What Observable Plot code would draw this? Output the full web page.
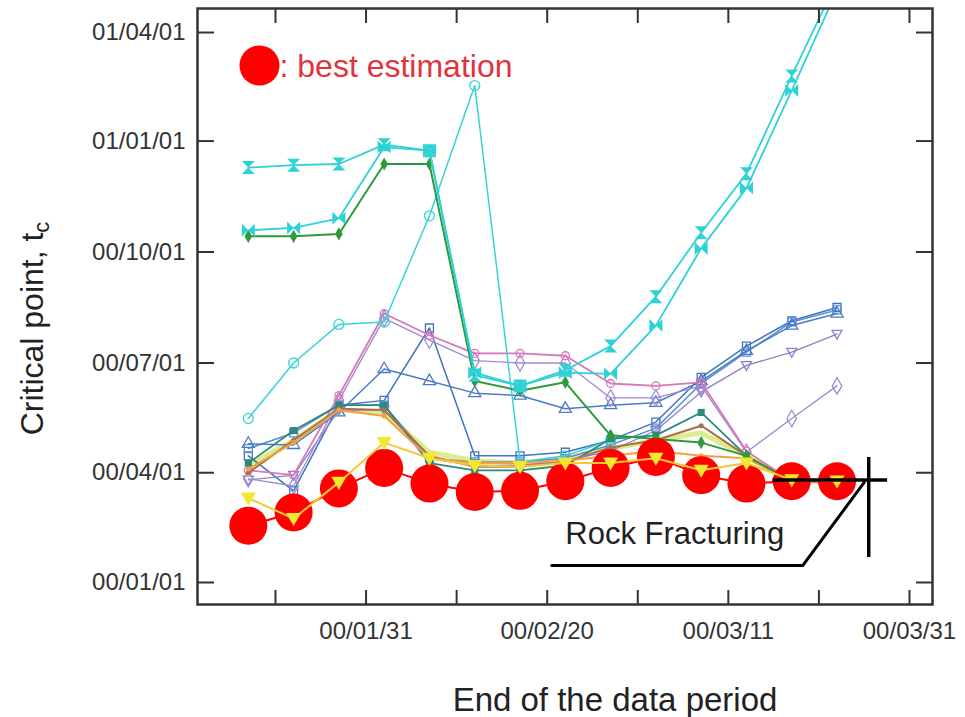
<!DOCTYPE html>
<html><head><meta charset="utf-8">
<script src="https://cdn.jsdelivr.net/npm/d3@7"></script>
<script src="https://cdn.jsdelivr.net/npm/@observablehq/plot@0.6"></script>
<style>
html,body{margin:0;padding:0;background:#fff;}
#chart svg{font-family:"Liberation Sans",Arial,Helvetica,sans-serif;}
</style></head><body><div id="chart"></div>
<script>
// End of the data period (x)
const endDates = ["2000-01-18","2000-01-23","2000-01-28","2000-02-02","2000-02-07","2000-02-12","2000-02-17",
  "2000-02-22","2000-02-27","2000-03-03","2000-03-08","2000-03-13","2000-03-18","2000-03-23"];

// Critical point t_c, expressed as days after 2000-01-01
const bestEstimation = [47, 58, 78, 95, 82, 75, 76, 84, 95, 104, 89, 82, 84, 84];
const cyanHourglass  = [344, 346, 347, 363, 358, 172, 163, 176, 196, 237, 290, 339, 420, 499];
const cyanBowtie     = [292, 294, 302, 361, 358, 174, 163, 174, 173, 213, 277, 327, 408, 491];
const greenDiamond   = [287, 287, 289, 347, 347, 167, 159, 166, 122, 119, 116, 105, 84, null];
const cyanCircle     = [136, 182, 214, 216, 304, 412, 100, 105, 118, null, null, null, null, null];
const pinkCircle     = [93, 89, 155, 223, 205, 190, 190, 188, 165, 163, 166, 109, 84, 84];
const purpleDiamond  = [86, 80, 151, 219, 201, 184, 182, 182, 153, 153, 163, 108, 136, 163];
const blueTriangle   = [115, 114, 141, 177, 167, 157, 155, 144, 147, 149, 167, 192, 213, 223];
const blueSquareA    = [105, 76, 147, 151, 211, 105, 105, 108, 118, 133, 170, 196, 217, 228];
const blueSquareB    = [111, 124, 147, 147, 103, 100, 100, 103, 114, 128, 165, 191, 216, 226];
const violetTriangle = [85, 89, 143, 143, 103, 97, 97, 101, 109, 126, 158, 180, 191, 206];
const tealSquare     = [99, 126, 147, 147, 99, 93, 93, 97, 119, 122, 141, 105, 84, 84];
const orangeLine     = [94, 116, 143, 138, 103, 99, 99, 101, 105, 109, 105, 103, 84, 84];
const brownLine      = [91, 118, 144, 143, 105, 96, 96, 100, 112, 118, 130, 105, 84, 84];
const limeLine       = [97, 118, 143, 141, 108, 101, 99, 103, 111, 118, 124, 105, 84, 84];
const yellowTriangle = [70, 53, 83, 116, 103, 97, 96, 99, 99, 103, 93, 99, 85, 84];

// axis ticks
const xTickDates  = ["2000-01-21","2000-01-31","2000-02-10","2000-02-20","2000-03-01","2000-03-11","2000-03-21","2000-03-31"];
const xLabelDates = ["2000-01-31","2000-02-20","2000-03-11","2000-03-31"];
const yTickDates  = ["2000-01-01","2000-04-01","2000-07-01","2000-10-01","2001-01-01","2001-04-01"];

// rock fracturing annotation (dates)
const fractureTime = "2000-03-26T12:00Z";
const fractureTc = 85;
const crossX = ["2000-03-15T22:00Z", "2000-03-28T14:00Z"];
const crossTc = [103.6, 20.7];
const leaderX = ["2000-03-26T00:00Z", "2000-03-19T05:00Z", "2000-02-20T12:00Z"];
const leaderTc = [83, 14, 14];
const labelX = "2000-03-05T02:00Z";
const labelTc = 40;

const origin = Date.UTC(2000, 0, 1);
const toDate = d => new Date(origin + d * 864e5);
const fmt = d3.utcFormat("%y/%m/%d");

const hourglass = {draw(c, s){const r=Math.sqrt(s/Math.PI); c.moveTo(-r,-r); c.lineTo(r,-r); c.lineTo(-r,r); c.lineTo(r,r); c.closePath();}};
const bowtie = {draw(c, s){const r=Math.sqrt(s/Math.PI); c.moveTo(-r,-r); c.lineTo(-r,r); c.lineTo(r,-r); c.lineTo(r,r); c.closePath();}};
const triDown = {draw(c, s){const r=Math.sqrt(s/Math.PI); c.moveTo(-r,-0.75*r); c.lineTo(r,-0.75*r); c.lineTo(0,r); c.closePath();}};

const seriesData = {limeLine, blueSquareA, blueSquareB, blueTriangle, violetTriangle, purpleDiamond, pinkCircle,
  cyanCircle, tealSquare, brownLine, orangeLine, greenDiamond, cyanBowtie, cyanHourglass, bestEstimation, yellowTriangle};

const styles = {
  limeLine:      {stroke:"#dcee8c", width:5, symbol:null},
  blueSquareA:   {stroke:"#3f74c0", width:1.5, symbol:"square", fill:"none", r:4.5},
  blueSquareB:   {stroke:"#5b8fd8", width:1.5, symbol:"square", fill:"none", r:4.5},
  blueTriangle:  {stroke:"#4a7cc4", width:1.5, symbol:"triangle", fill:"none", r:4.5},
  violetTriangle:{stroke:"#8a80cc", width:1.3, symbol:triDown, fill:"none", r:5},
  purpleDiamond: {stroke:"#a08ad0", width:1.3, symbol:"diamond", fill:"none", r:5},
  pinkCircle:    {stroke:"#d878b8", width:1.8, symbol:"circle", fill:"none", r:4},
  cyanCircle:    {stroke:"#3ad4d8", width:1.5, symbol:"circle", fill:"none", r:5},
  tealSquare:    {stroke:"#2c8a7c", width:1.8, symbol:"square", fill:"#2c8a7c", r:4},
  brownLine:     {stroke:"#a87250", width:2, symbol:"circle", fill:"#a87250", r:2.5},
  orangeLine:    {stroke:"#f2a040", width:2, symbol:"circle", fill:"#f2a040", r:2.5},
  greenDiamond:  {stroke:"#2f9a3c", width:2, symbol:"diamond", fill:"#2f9a3c", r:4},
  cyanBowtie:    {stroke:"#2cd2d6", width:1.8, symbol:bowtie, fill:"#2cd2d6", r:6.5},
  cyanHourglass: {stroke:"#2cd2d6", width:1.8, symbol:hourglass, fill:"#2cd2d6", r:6.5},
  bestEstimation:{stroke:"#ff0000", width:2, symbol:"circle", fill:"#ff0000", r:19},
  yellowTriangle:{stroke:"#f6c830", width:2, symbol:triDown, fill:"#f2e830", r:7.5}
};

function rowsOf(name) {
  return seriesData[name].map((v, i) => v == null ? null : {series: name, end: new Date(endDates[i]), tc: toDate(v)}).filter(Boolean);
}

const W = 965, H = 717, mL = 197, mR = 33, mT = 8, mB = 113;
const innerW = W - mL - mR, innerH = H - mT - mB;

const marks = [];
for (const name of Object.keys(seriesData)) {
  const st = styles[name], rows = rowsOf(name);
  marks.push(Plot.line(rows, {x: "end", y: "tc", stroke: st.stroke, strokeWidth: st.width, clip: true}));
  if (st.symbol) marks.push(Plot.dot(rows, {x: "end", y: "tc", symbol: st.symbol, r: st.r, stroke: st.fill === "none" ? st.stroke : "none",
    fill: st.fill, strokeWidth: 1.3, clip: true}));
}

const xTicks = xTickDates.map(d => new Date(d));
const yTicks = yTickDates.map(d => new Date(d));

const chart = Plot.plot({
  width: W, height: H, marginLeft: mL, marginRight: mR, marginTop: mT, marginBottom: mB,
  x: {type: "utc", domain: [new Date("2000-01-12T09:20Z"), new Date("2000-04-02T13:00Z")]},
  y: {type: "utc", domain: [new Date("1999-12-13T18:00Z"), new Date("2001-04-20T22:00Z")]},
  style: {fontFamily: "Liberation Sans, Arial, sans-serif", color: "#333", background: "#fff"},
  marks: [
    ...marks,
    // rock fracturing annotation
    Plot.ruleY([toDate(fractureTc)], {y: d => d, x1: () => new Date(crossX[0]), x2: () => new Date(crossX[1]), stroke: "#000", strokeWidth: 3.5}),
    Plot.ruleX([new Date(fractureTime)], {x: d => d, y1: () => toDate(crossTc[0]), y2: () => toDate(crossTc[1]), stroke: "#000", strokeWidth: 3.5}),
    Plot.line(leaderX.map((x, i) => ({x: new Date(x), y: toDate(leaderTc[i])})), {x: "x", y: "y", stroke: "#000", strokeWidth: 3}),
    Plot.text(["Rock Fracturing"], {x: () => new Date(labelX), y: () => toDate(labelTc), text: d => d, fontSize: 31, fill: "#222"}),
    // legend
    Plot.dot([0], {x: null, y: null, frameAnchor: "top-left", dx: 62, dy: 57, r: 20, fill: "#ff0000"}),
    Plot.text([": best estimation"], {x: null, y: null, frameAnchor: "top-left", dx: 82, dy: 58, text: d => d,
      textAnchor: "start", lineAnchor: "middle", fontSize: 32, fill: "#e0343c"}),
    // frame and ticks
    Plot.frame({stroke: "#333", strokeWidth: 2.5}),
    Plot.ruleX(xTicks, {x: d => d, insetTop: innerH - 14, stroke: "#333", strokeWidth: 2}),
    Plot.ruleX(xTicks, {x: d => d, insetBottom: innerH - 15, stroke: "#333", strokeWidth: 2}),
    Plot.ruleY(yTicks, {y: d => d, insetRight: innerW - 17, stroke: "#333", strokeWidth: 2}),
    Plot.ruleY(yTicks, {y: d => d, insetLeft: innerW - 16, stroke: "#333", strokeWidth: 2}),
    Plot.axisX({ticks: xLabelDates.map(d => new Date(d)), tickSize: 0, tickPadding: 17, tickFormat: fmt, fontSize: 24, label: null}),
    Plot.axisY({ticks: yTicks, tickSize: 0, tickPadding: 12, tickFormat: fmt, fontSize: 24, label: null}),
    // axis titles
    Plot.text(["End of the data period"], {x: null, y: null, frameAnchor: "bottom", dx: 50, dy: 106, textAnchor: "middle", lineAnchor: "bottom",
      text: d => d, fontSize: 33, fill: "#222"}),
    Plot.text(["Critical point, t"], {x: null, y: null, frameAnchor: "left", dx: -165, dy: 22, rotate: -90, textAnchor: "middle", lineAnchor: "middle",
      text: d => d, fontSize: 32, fill: "#222"})
  ]
});
document.getElementById("chart").appendChild(chart);

// subscript "c" on the y title
for (const t of chart.querySelectorAll("text")) {
  if (t.textContent === "Critical point, t") {
    const ts = document.createElementNS("http://www.w3.org/2000/svg", "tspan");
    ts.setAttribute("dy", "0.3em");
    ts.setAttribute("font-size", "22");
    ts.textContent = "c";
    t.appendChild(ts);
  }
}
</script></body></html>
